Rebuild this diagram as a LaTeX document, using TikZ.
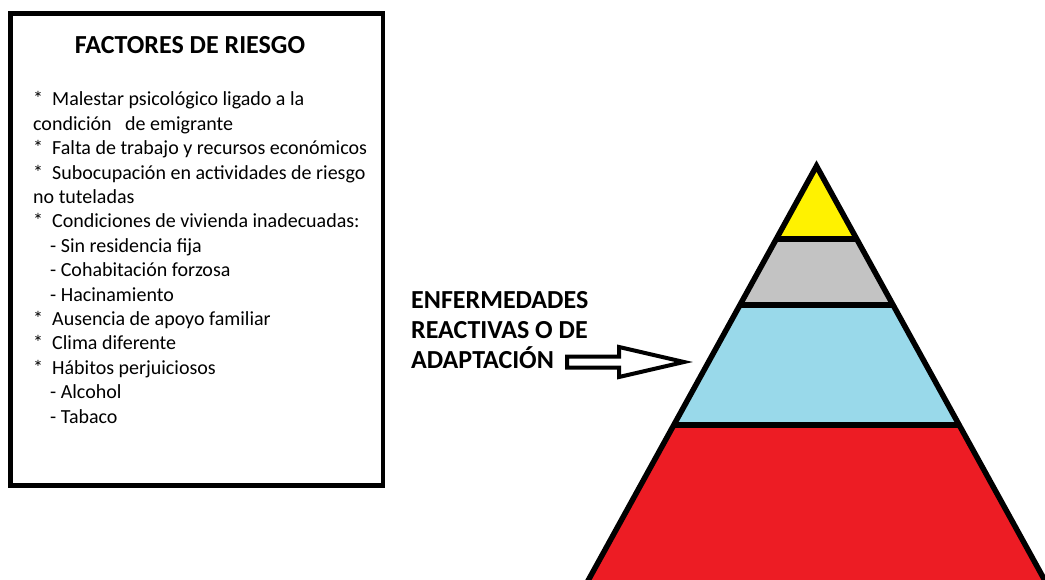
\documentclass[tikz,border=0pt]{standalone}
\usepackage{fontspec}
\setmainfont{Carlito}
\usetikzlibrary{positioning,shapes.arrows}
\definecolor{tipyellow}{RGB}{255,242,0}
\definecolor{tiergray}{RGB}{195,195,195}
\definecolor{tierblue}{RGB}{153,217,234}
\definecolor{tierred}{RGB}{237,28,36}
\tikzset{
  riskbox/.style={draw,line width=4.5pt,inner sep=0pt,outer sep=0pt},
  boldtext/.style={font=\bfseries\fontsize{26}{30}\selectfont,align=left,inner sep=0pt},
  listtext/.style={font=\fontsize{20}{24.4}\selectfont,align=left,inner sep=0pt},
  hollowarrow/.style={single arrow,draw,fill=white,line width=4pt,
    inner xsep=0pt,inner ysep=3.5pt,outer sep=0pt,minimum height=117pt,
    single arrow head extend=9.5pt,single arrow tip angle=26},
  tierline/.style={line width=5.5pt},
}
\begin{document}
\begin{tikzpicture}[x=1pt,y=-1pt]
  \useasboundingbox (0,0) rectangle (1045,580);
  \node[riskbox,anchor=north west,minimum width=372.5pt,
        minimum height=472pt] (box) at (10.5,13.5) {};
  \node[boldtext,anchor=base] (title) at (190,53.3) {FACTORES DE RIESGO};
  \node[listtext,anchor=north west] (factors) at (33,91.5) {%
    *\ \ Malestar psicológico ligado a la\\
    condición\ \ \ de emigrante\\
    *\ \ Falta de trabajo y recursos económicos\\
    *\ \ Subocupación en actividades de riesgo\\
    no tuteladas\\
    *\ \ Condiciones de vivienda inadecuadas:\\
    \hspace*{17pt}- Sin residencia fija\\
    \hspace*{17pt}- Cohabitación forzosa\\
    \hspace*{17pt}- Hacinamiento\\
    *\ \ Ausencia de apoyo familiar\\
    *\ \ Clima diferente\\
    *\ \ Hábitos perjuiciosos\\
    \hspace*{17pt}- Alcohol\\
    \hspace*{17pt}- Tabaco};
  \node[boldtext,anchor=north west] (disease) at (411,291.6)
    {ENFERMEDADES\\REACTIVAS O DE\\ADAPTACIÓN};
  \node[hollowarrow,anchor=tail] (pointer) at (567,362) {};
  % piramide
  \coordinate (apex) at (816.5,166);
  \coordinate (baseL) at (577.4,600);
  \coordinate (baseR) at (1055.6,600);
  \begin{scope}
    \clip (apex) -- (baseL) -- (baseR) -- cycle;
    \fill[tierred] (550,425) rectangle (1100,620);
    \fill[tierblue] (550,305) rectangle (1100,425);
    \fill[tiergray] (550,239) rectangle (1100,305);
    \fill[tipyellow] (550,150) rectangle (1100,239);
    \foreach \y in {239,305,425}
      \draw[tierline] (550,\y) -- (1100,\y);
  \end{scope}
  \draw[tierline,line join=miter] (baseL) -- (apex) -- (baseR);
\end{tikzpicture}
\end{document}
